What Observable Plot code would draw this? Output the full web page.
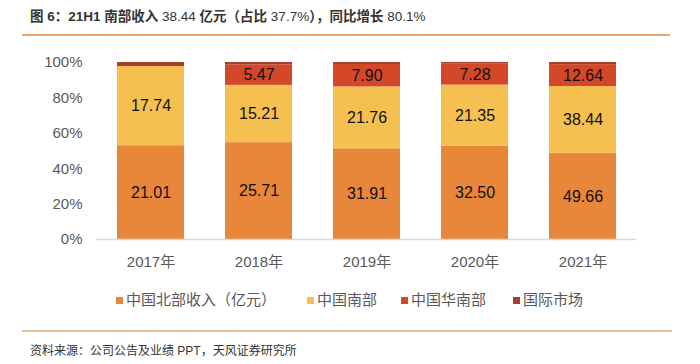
<!DOCTYPE html>
<html><head><meta charset="utf-8">
<script src="https://cdn.jsdelivr.net/npm/d3@7"></script>
<script src="https://cdn.jsdelivr.net/npm/@observablehq/plot@0.6"></script>
<style>
body{margin:0;background:#fff;font-family:"Liberation Sans","Noto Sans CJK SC",sans-serif;}
#wrap{position:relative;width:700px;height:364px;overflow:hidden;}
#title{position:absolute;left:30px;top:5px;font-size:13.5px;color:#333;white-space:nowrap;}
#title b{font-weight:bold;}
#title span{font-weight:normal;}
#topline{position:absolute;left:22px;top:34px;width:648px;height:2px;background:#F2A466;}
#chart{position:absolute;left:0;top:0;}
#legend{position:absolute;top:290px;left:0;width:700px;height:20px;font-size:15px;color:#595959;}
.li{position:absolute;top:0;white-space:nowrap;line-height:20px;}
.sw{display:inline-block;width:7px;height:7px;margin-right:3px;vertical-align:middle;position:relative;top:-1px;}
#botline{position:absolute;left:22px;top:330px;width:650px;height:2px;background:#E6BE9A;}
#source{position:absolute;left:30px;top:341px;font-size:12px;color:#333;white-space:nowrap;}
</style></head>
<body><div id="wrap">
<div id="title"><b>图 6：21H1 南部收入 </b><span>38.44</span><b> 亿元（占比 </b><span>37.7%</span><b>），同比增长 </b><span>80.1%</span></div>
<div id="topline"></div>
<div id="chart"></div>
<div id="legend"></div>
<div id="botline"></div>
<div id="source">资料来源：公司公告及业绩 PPT，天风证券研究所</div>
</div>
<script>
const years = ["2017年","2018年","2019年","2020年","2021年"];
const series = ["中国北部收入（亿元）","中国南部","中国华南部","国际市场"];
const north = [21.01, 25.71, 31.91, 32.50, 49.66];
const south = [17.74, 15.21, 21.76, 21.35, 38.44];
const huanan = [0, 5.47, 7.90, 7.28, 12.64];
const intl = [0.9, 0.6, 0.7, 0.6, 1.22];
const labeled = [true, true, true, false];
const colors = ["#E8863A","#F5C050","#D4482A","#A7402F"];

const cols = [north, south, huanan, intl];
const data = [];
series.forEach((s, si) => {
  years.forEach((y, yi) => {
    data.push({year: y, series: s, value: cols[si][yi], label: labeled[si] && cols[si][yi] > 0});
  });
});

const chart = Plot.plot({
  width: 700,
  height: 290,
  marginTop: 62,
  marginBottom: 51,
  marginLeft: 96,
  marginRight: 64,
  style: {fontFamily: '"Liberation Sans","Noto Sans CJK SC",sans-serif', background: "transparent"},
  x: {domain: years, paddingInner: 0.38, paddingOuter: 0.19, label: null, tickSize: 0, tickPadding: 17},
  y: {domain: [0, 1], ticks: [0, 0.2, 0.4, 0.6, 0.8, 1], tickFormat: d => Math.round(d * 100) + "%", label: null, tickSize: 0, tickPadding: 14},
  color: {domain: series, range: colors},
  marks: [
    Plot.barY(data, {x: "year", y: "value", fill: "series", offset: "normalize", order: series}),
    Plot.ruleY([0], {stroke: "#D9D9D9", strokeWidth: 1.5}),
    Plot.text(data, Plot.stackY({x: "year", y: "value", z: "series", offset: "normalize", order: series, text: d => d.label ? d.value.toFixed(2) : null, fontSize: 16, fill: "#111"})),
    Plot.axisX({tickSize: 0, tickPadding: 17, fontSize: 15, fill: "#595959", label: null}),
    Plot.axisY({ticks: [0, 0.2, 0.4, 0.6, 0.8, 1], tickFormat: d => Math.round(d * 100) + "%", tickSize: 0, tickPadding: 14, fontSize: 15, fill: "#595959", label: null})
  ]
});
document.getElementById("chart").appendChild(chart);

const legend = document.getElementById("legend");
const lefts = [116, 307, 401, 513];
series.forEach((s, i) => {
  const d = document.createElement("div");
  d.className = "li";
  d.style.left = lefts[i] + "px";
  d.innerHTML = `<span class="sw" style="background:${colors[i]}"></span>${s}`;
  legend.appendChild(d);
});
</script>
</body></html>
